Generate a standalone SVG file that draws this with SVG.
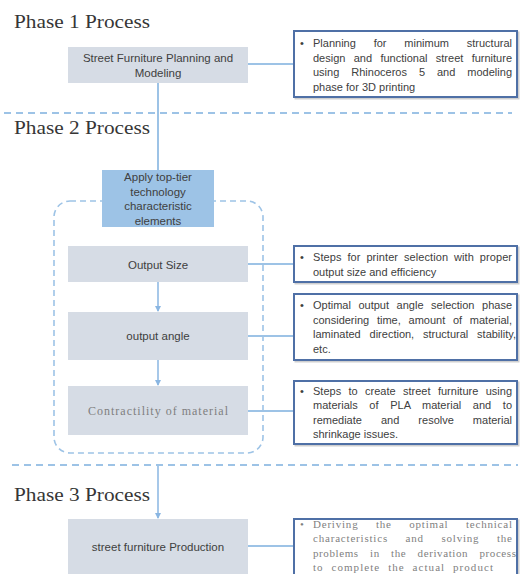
<svg xmlns="http://www.w3.org/2000/svg" width="520" height="574" viewBox="0 0 520 574">
  <style>
    .title { font-family: "Liberation Serif", "Times New Roman", serif; font-size: 18px; fill: #363636; }
    .node { fill: #d6dce5; }
    .apply { fill: #9dc3e6; }
    .nt { font-family: "Liberation Sans", Arial, sans-serif; font-size: 11.5px; fill: #404040; text-anchor: middle; }
    .nts { font-family: "Liberation Serif", "Times New Roman", serif; font-size: 12px; fill: #7f7f7f; text-anchor: middle; }
    .desc { fill: #ffffff; stroke: #4f70a6; stroke-width: 2; }
    .shadow { fill: none; stroke: #cfcfcf; stroke-width: 2; }
    .dt { font-family: "Liberation Sans", Arial, sans-serif; font-size: 11px; fill: #404040; }
    .dts { font-family: "Liberation Serif", "Times New Roman", serif; font-size: 11px; fill: #7f7f7f; }
    .sep { stroke: #9dc3e6; stroke-width: 2; stroke-dasharray: 7 5; fill: none; }
    .frame { stroke: #9dc3e6; stroke-width: 1.6; stroke-dasharray: 6 4; fill: none; }
    .link { stroke: #9dc3e6; stroke-width: 2; fill: none; }
    .arrow { stroke: #8ab6e2; stroke-width: 1.5; fill: none; marker-end: url(#ah); }
  </style>
  <defs>
    <marker id="ah" viewBox="0 0 6 6" refX="5" refY="3" markerWidth="4" markerHeight="4" orient="auto" markerUnits="strokeWidth">
      <path d="M0,0 L6,3 L0,6 z" fill="#8ab6e2"/>
    </marker>
  </defs>

  <rect width="520" height="574" fill="#ffffff"/>

  <g id="phase-titles">
    <text class="title" x="14" y="27.5" textLength="136" lengthAdjust="spacingAndGlyphs">Phase 1 Process</text>
    <text class="title" x="14" y="134" textLength="136" lengthAdjust="spacingAndGlyphs">Phase 2 Process</text>
    <text class="title" x="14" y="501" textLength="136" lengthAdjust="spacingAndGlyphs">Phase 3 Process</text>
  </g>

  <g id="separators">
    <line class="sep" x1="4" y1="113" x2="512" y2="113"/>
    <line class="sep" x1="12" y1="465" x2="518" y2="465"/>
  </g>

  <g id="group-frame">
    <rect class="frame" x="54" y="201" width="209" height="252" rx="16" ry="16"/>
  </g>

  <g id="connectors">
    <line class="link" x1="158" y1="83" x2="158" y2="170"/>
    <line class="link" x1="248" y1="64" x2="294" y2="64"/>
    <line class="arrow" x1="158" y1="282" x2="158" y2="311"/>
    <line class="arrow" x1="158" y1="360" x2="158" y2="385"/>
    <line class="arrow" x1="158" y1="466" x2="158" y2="518"/>
    <line class="link" x1="248" y1="264" x2="294" y2="264"/>
    <line class="link" x1="248" y1="336" x2="294" y2="336"/>
    <line class="link" x1="248" y1="411" x2="294" y2="411"/>
    <line class="link" x1="248" y1="546" x2="294" y2="546"/>
  </g>

  <g id="node-planning">
    <rect class="node" x="68" y="47" width="180" height="36"/>
    <text class="nt" x="158" y="61.5">Street Furniture Planning and</text>
    <text class="nt" x="158" y="76.5">Modeling</text>
  </g>

  <g id="node-apply">
    <rect class="apply" x="102" y="170" width="112" height="57"/>
    <text class="nt" x="158" y="180.5">Apply top-tier</text>
    <text class="nt" x="158" y="195.5">technology</text>
    <text class="nt" x="158" y="210">characteristic</text>
    <text class="nt" x="158" y="224.5">elements</text>
  </g>

  <g id="node-output-size">
    <rect class="node" x="68" y="246" width="180" height="36"/>
    <text class="nt" x="158" y="268.5">Output Size</text>
  </g>

  <g id="node-output-angle">
    <rect class="node" x="68" y="312" width="180" height="48"/>
    <text class="nt" x="158" y="340">output angle</text>
  </g>

  <g id="node-contractility">
    <rect class="node" x="68" y="386" width="180" height="49"/>
    <text class="nts" x="158" y="415" textLength="140" lengthAdjust="spacing">Contractility of material</text>
  </g>

  <g id="node-production">
    <rect class="node" x="68" y="519" width="180" height="56"/>
    <text class="nt" x="158" y="550.5">street furniture Production</text>
  </g>

  <g id="desc-planning">
    <rect class="shadow" x="295.5" y="32.5" width="223" height="66"/>
    <rect class="desc" x="294" y="31" width="223" height="66"/>
    <text class="dt" x="300" y="47">•</text>
    <text class="dt" x="313" y="47" word-spacing="14.8" textLength="199" lengthAdjust="spacing">Planning for minimum structural</text>
    <text class="dt" x="313" y="61.5" word-spacing="5.3" textLength="199" lengthAdjust="spacing">design and functional street furniture</text>
    <text class="dt" x="313" y="76" word-spacing="8.9" textLength="199" lengthAdjust="spacing">using Rhinoceros 5 and modeling</text>
    <text class="dt" x="313" y="90.5">phase for 3D printing</text>
  </g>

  <g id="desc-output-size">
    <rect class="shadow" x="295.5" y="247.5" width="223" height="36"/>
    <rect class="desc" x="294" y="246" width="223" height="36"/>
    <text class="dt" x="300" y="261">•</text>
    <text class="dt" x="313" y="261" word-spacing="2.8" textLength="199" lengthAdjust="spacing">Steps for printer selection with proper</text>
    <text class="dt" x="313" y="275.5">output size and efficiency</text>
  </g>

  <g id="desc-output-angle">
    <rect class="shadow" x="295.5" y="295.5" width="223" height="66"/>
    <rect class="desc" x="294" y="294" width="223" height="66"/>
    <text class="dt" x="300" y="309">•</text>
    <text class="dt" x="313" y="309" word-spacing="4.5" textLength="199" lengthAdjust="spacing">Optimal output angle selection phase</text>
    <text class="dt" x="313" y="323.5" word-spacing="4.7" textLength="199" lengthAdjust="spacing">considering time, amount of material,</text>
    <text class="dt" x="313" y="338" word-spacing="5.8" textLength="203" lengthAdjust="spacing">laminated direction, structural stability,</text>
    <text class="dt" x="313" y="352.5">etc.</text>
  </g>

  <g id="desc-contractility">
    <rect class="shadow" x="295.5" y="382.5" width="223" height="63"/>
    <rect class="desc" x="294" y="381" width="223" height="63"/>
    <text class="dt" x="300" y="394.5">•</text>
    <text class="dt" x="313" y="394.5" word-spacing="4.3" textLength="199" lengthAdjust="spacing">Steps to create street furniture using</text>
    <text class="dt" x="313" y="409" word-spacing="8.5" textLength="199" lengthAdjust="spacing">materials of PLA material and to</text>
    <text class="dt" x="313" y="423.5" word-spacing="16" textLength="199" lengthAdjust="spacing">remediate and resolve material</text>
    <text class="dt" x="313" y="438">shrinkage issues.</text>
  </g>

  <g id="desc-production">
    <rect class="shadow" x="295.5" y="520.5" width="223" height="60"/>
    <rect class="desc" x="294" y="519" width="223" height="60"/>
    <text class="dts" x="300" y="527.5">•</text>
    <text class="dts" x="313" y="527.5" word-spacing="14" textLength="199" lengthAdjust="spacing">Deriving the optimal technical</text>
    <text class="dts" x="313" y="542" word-spacing="14" textLength="199" lengthAdjust="spacing">characteristics and solving the</text>
    <text class="dts" x="313" y="556.5" word-spacing="8" textLength="203" lengthAdjust="spacing">problems in the derivation process</text>
    <text class="dts" x="313" y="571" word-spacing="4" textLength="180" lengthAdjust="spacing">to complete the actual product</text>
  </g>
</svg>
